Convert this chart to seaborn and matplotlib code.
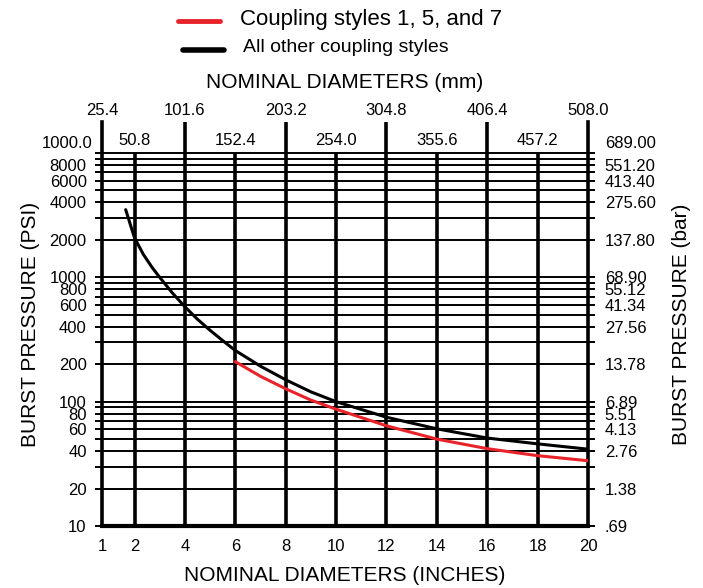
import pandas as pd
import matplotlib
matplotlib.use("Agg")
import matplotlib.pyplot as plt
import matplotlib.transforms as mtransforms
from matplotlib.lines import Line2D
from matplotlib.ticker import NullFormatter
import seaborn as sns

# burst pressure curves (nominal diameter in inches -> psi)
other_in = [1.65, 1.8, 2, 2.35, 2.7, 3, 3.5, 4, 4.5, 5, 5.5, 6, 7, 8, 9, 10, 12, 14, 16, 18, 20]
other_psi = [3500, 2800, 2080, 1530, 1200, 1000, 750, 580, 460, 375, 310, 258, 193, 150, 120,
             100, 75, 60.5, 51, 45.8, 41.5]
style157_in = [6, 7, 8, 9, 10, 12, 14, 16, 18, 20]
style157_psi = [210, 160, 127, 103, 87, 64, 50, 41.9, 36.8, 33.5]

# axis labelling
inch_ticks = [2, 4, 6, 8, 10, 12, 14, 16, 18, 20]
inch_labels = ["2", "4", "6", "8", "10", "12", "14", "16", "18", "20"]
mm_outer_pos = [4, 8, 12, 16, 20]
mm_outer_labels = ["25.4", "101.6", "203.2", "304.8", "406.4", "508.0"]
mm_inner_pos = [2, 6, 10, 14, 18]
mm_inner_labels = ["50.8", "152.4", "254.0", "355.6", "457.2"]
psi_ticks = [10, 20, 40, 60, 80, 100, 200, 400, 600, 800, 1000, 2000, 4000, 6000, 8000]
psi_labels = ["10", "20", "40", "60", "80", "100", "200", "400", "600", "800",
              "1000", "2000", "4000", "6000", "8000"]
bar_labels = [".69", "1.38", "2.76", "4.13", "5.51", "6.89", "13.78", "27.56", "41.34",
              "55.12", "68.90", "137.80", "275.60", "413.40", "551.20"]

RED = "#E8232A"
X_LEFT = 0.71  # chart's left edge (labelled "1")
FS = 12
grid_psi = [m * 10 ** e for e in (1, 2, 3) for m in range(1, 10)] + [10000]

sns.set_style("white")
plt.rcParams["font.family"] = ["Liberation Sans", "DejaVu Sans"]
plt.rcParams["text.color"] = "black"
plt.rcParams["axes.labelcolor"] = "black"
plt.rcParams["xtick.color"] = "black"
plt.rcParams["ytick.color"] = "black"

fig = plt.figure(figsize=(7.03, 5.88), dpi=100)
ax = fig.add_axes([0.1451, 0.1054, 0.6913, 0.6871])

df_other = pd.DataFrame({"inch": other_in, "psi": other_psi})
df_157 = pd.DataFrame({"inch": style157_in, "psi": style157_psi})
sns.lineplot(data=df_other, x="inch", y="psi", color="black", lw=2.2, ax=ax, zorder=4)
sns.lineplot(data=df_157, x="inch", y="psi", color=RED, lw=2.2, ax=ax, zorder=5)

ax.set_yscale("log")
ax.set_xlim(X_LEFT, 20)
ax.set_ylim(10, 17750)

# grid: all log lines, vertical lines every 2 inches
ax.set_yticks(psi_ticks, labels=psi_labels)
ax.set_yticks(grid_psi, minor=True)
ax.yaxis.set_minor_formatter(NullFormatter())
ax.grid(False)
for v in grid_psi:
    ax.axhline(v, color="black", lw=1.4, zorder=1)
ax.vlines(mm_inner_pos, 10, 10000, color="black", lw=2.6, zorder=2)
for p in mm_outer_pos[:-1]:
    ax.axvline(p, color="black", lw=2.6, zorder=2)

ax.tick_params(axis="y", which="both", direction="out", length=5, width=1.4,
               color="black", labelsize=FS, pad=6)
ax.set_xticks([X_LEFT] + inch_ticks, labels=["1"] + inch_labels)
ax.tick_params(axis="x", length=0, pad=9, labelsize=FS)

for side in ["left", "right"]:
    ax.spines[side].set_linewidth(2.6)
    ax.spines[side].set_color("black")
ax.spines["bottom"].set_linewidth(3)
ax.spines["bottom"].set_color("black")
ax.spines["top"].set_visible(False)

ax.set_xlabel("NOMINAL DIAMETERS (INCHES)", fontsize=15, labelpad=9)
ax.set_ylabel("BURST PRESSURE (PSI)", fontsize=15, labelpad=7)

# right axis in bar
ax2 = ax.twinx()
ax2.set_yscale("log")
ax2.set_ylim(ax.get_ylim())
ax2.set_yticks(psi_ticks, labels=bar_labels)
ax2.set_yticks(grid_psi, minor=True)
ax2.yaxis.set_minor_formatter(NullFormatter())
ax2.tick_params(axis="y", which="both", direction="out", length=5, width=1.4,
                color="black", labelsize=FS, pad=7)
for s in ax2.spines.values():
    s.set_visible(False)
ax2.set_ylabel("BURST PRESSURE (bar)", fontsize=15, labelpad=12)

# top axis in mm
top = ax.secondary_xaxis("top")
top.set_xticks([X_LEFT] + mm_outer_pos, labels=mm_outer_labels)
top.tick_params(length=0, pad=3, labelsize=FS)
top.spines["top"].set_visible(False)
top.set_xlabel("NOMINAL DIAMETERS (mm)", fontsize=15, labelpad=11)

trans = mtransforms.blended_transform_factory(ax.transData, ax.transAxes)
for p, lab in zip(mm_inner_pos, mm_inner_labels):
    ax.text(p, 0.953, lab, transform=trans, ha="center", va="center", fontsize=FS)
ax.text(-0.02, 0.948, "1000.0", transform=ax.transAxes, ha="right", va="center", fontsize=FS)
ax.text(1.035, 0.946, "689.00", transform=ax.transAxes, ha="left", va="center", fontsize=FS)

# legend
fig.add_artist(Line2D([178 / 703, 220 / 703], [1 - 21 / 588] * 2, transform=fig.transFigure,
                      color=RED, lw=3.5))
fig.text(240 / 703, 1 - 20 / 588, "Coupling styles 1, 5, and 7", fontsize=16, va="center")
fig.add_artist(Line2D([183 / 703, 224 / 703], [1 - 50 / 588] * 2, transform=fig.transFigure,
                      color="black", lw=4))
fig.text(243 / 703, 1 - 47 / 588, "All other coupling styles", fontsize=14, va="center")

fig.savefig("out.png", dpi=100)
